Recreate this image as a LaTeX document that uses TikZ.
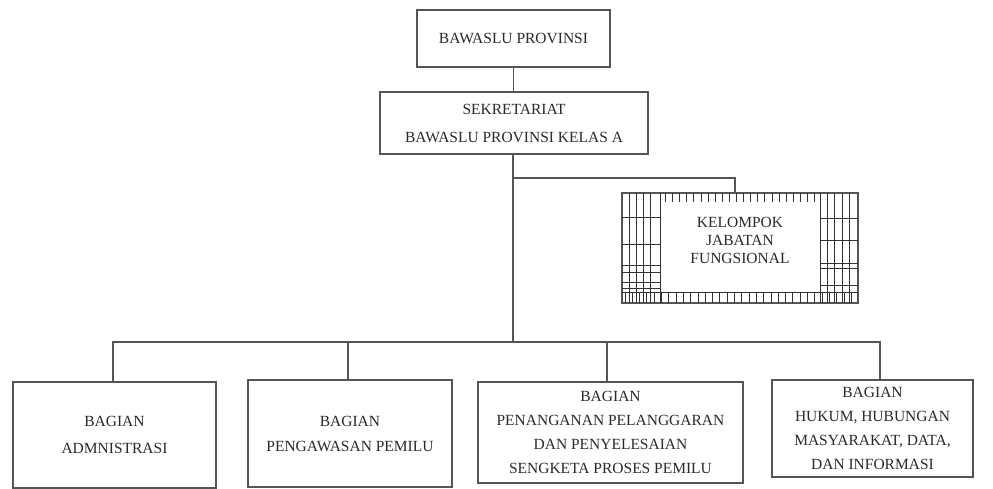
\documentclass[tikz,border=0pt]{standalone}
\usepackage{fontspec}
\setmainfont{Liberation Serif}
\definecolor{linec}{HTML}{555555}
\definecolor{gridc}{HTML}{333333}
\definecolor{txtc}{HTML}{2A2A2A}
\begin{document}
\begin{tikzpicture}[x=1pt,y=-1pt,
  orgbox/.style={draw=linec, line width=1.4pt, align=center, inner sep=0pt, text=txtc,
    font=\fontsize{15.5}{24}\selectfont},
  conn/.style={draw=linec, line width=1.4pt},
  gridline/.style={draw=gridc, line width=0.9pt}]
\useasboundingbox (0,0) rectangle (993,489);
\fill[white] (0,0) rectangle (993,489);

\node[orgbox, minimum width=193pt, minimum height=57pt] (top) at (513.5,38.5) {BAWASLU PROVINSI};
\node[orgbox, minimum width=268pt, minimum height=62pt, font=\fontsize{15.5}{28}\selectfont] (sek) at (514,123) {SEKRETARIAT\\BAWASLU PROVINSI KELAS A};

% Kelompok jabatan fungsional with grid border
\node[orgbox, minimum width=236pt, minimum height=110pt] (kel) at (740,248) {};
\foreach \x in {629,636,643,650,660,820,827,834,842,849}
  \draw[gridline] (\x,193) -- (\x,303);
\foreach \y in {217,244,265,272,282,288}
  \draw[gridline] (622,\y) -- (660,\y);
\foreach \y in {218,240,263,268,285}
  \draw[gridline] (820,\y) -- (858,\y);
\draw[gridline] (622,292) -- (858,292);
\foreach \i in {0,...,21}
  \draw[gridline] (665.5+\i*7.1,193) -- (665.5+\i*7.1,202);
\foreach \i in {0,...,31}
  \draw[gridline] (625+\i*7.3,292) -- (625+\i*7.3,303);
\draw[draw=linec, line width=1.4pt] (kel.north west) rectangle (kel.south east);
\node[align=center, text=txtc, font=\fontsize{15.5}{18}\selectfont, inner sep=0pt] (keltext) at (740,240.5) {KELOMPOK\\JABATAN\\FUNGSIONAL};

\node[orgbox, minimum width=203pt, minimum height=106pt, font=\fontsize{15.5}{27}\selectfont] (b1) at (114.5,435) {BAGIAN\\ADMNISTRASI};
\node[orgbox, minimum width=204pt, minimum height=107pt, font=\fontsize{15.5}{25}\selectfont] (b2) at (350,433.5) {BAGIAN\\PENGAWASAN PEMILU};
\node[orgbox, minimum width=265pt, minimum height=101pt, font=\fontsize{15.5}{24}\selectfont] (b3) at (610.5,432.5) {BAGIAN\\PENANGANAN PELANGGARAN\\DAN PENYELESAIAN\\SENGKETA PROSES PEMILU};
\node[orgbox, minimum width=201pt, minimum height=97pt, font=\fontsize{15.5}{24}\selectfont] (b4) at (872.5,428.5) {BAGIAN\\HUKUM, HUBUNGAN\\MASYARAKAT, DATA,\\DAN INFORMASI};

\coordinate (j1) at (513,178);
\coordinate (j2) at (513,342);

\draw[conn] (top.south) -- (top.south |- sek.north);
\draw[conn] (sek.south -| j1) -- (j2);
\draw[conn] (j1) -| ([xshift=-5pt]kel.north);
\draw[conn] ([xshift=-1.5pt]b1.north) |- ([xshift=7.5pt]b4.north |- j2) -- ([xshift=7.5pt]b4.north);
\draw[conn] ([xshift=-2pt]b2.north) -- ([xshift=-2pt]b2.north |- j2);
\draw[conn] ([xshift=-3.5pt]b3.north) -- ([xshift=-3.5pt]b3.north |- j2);
\end{tikzpicture}
\end{document}
